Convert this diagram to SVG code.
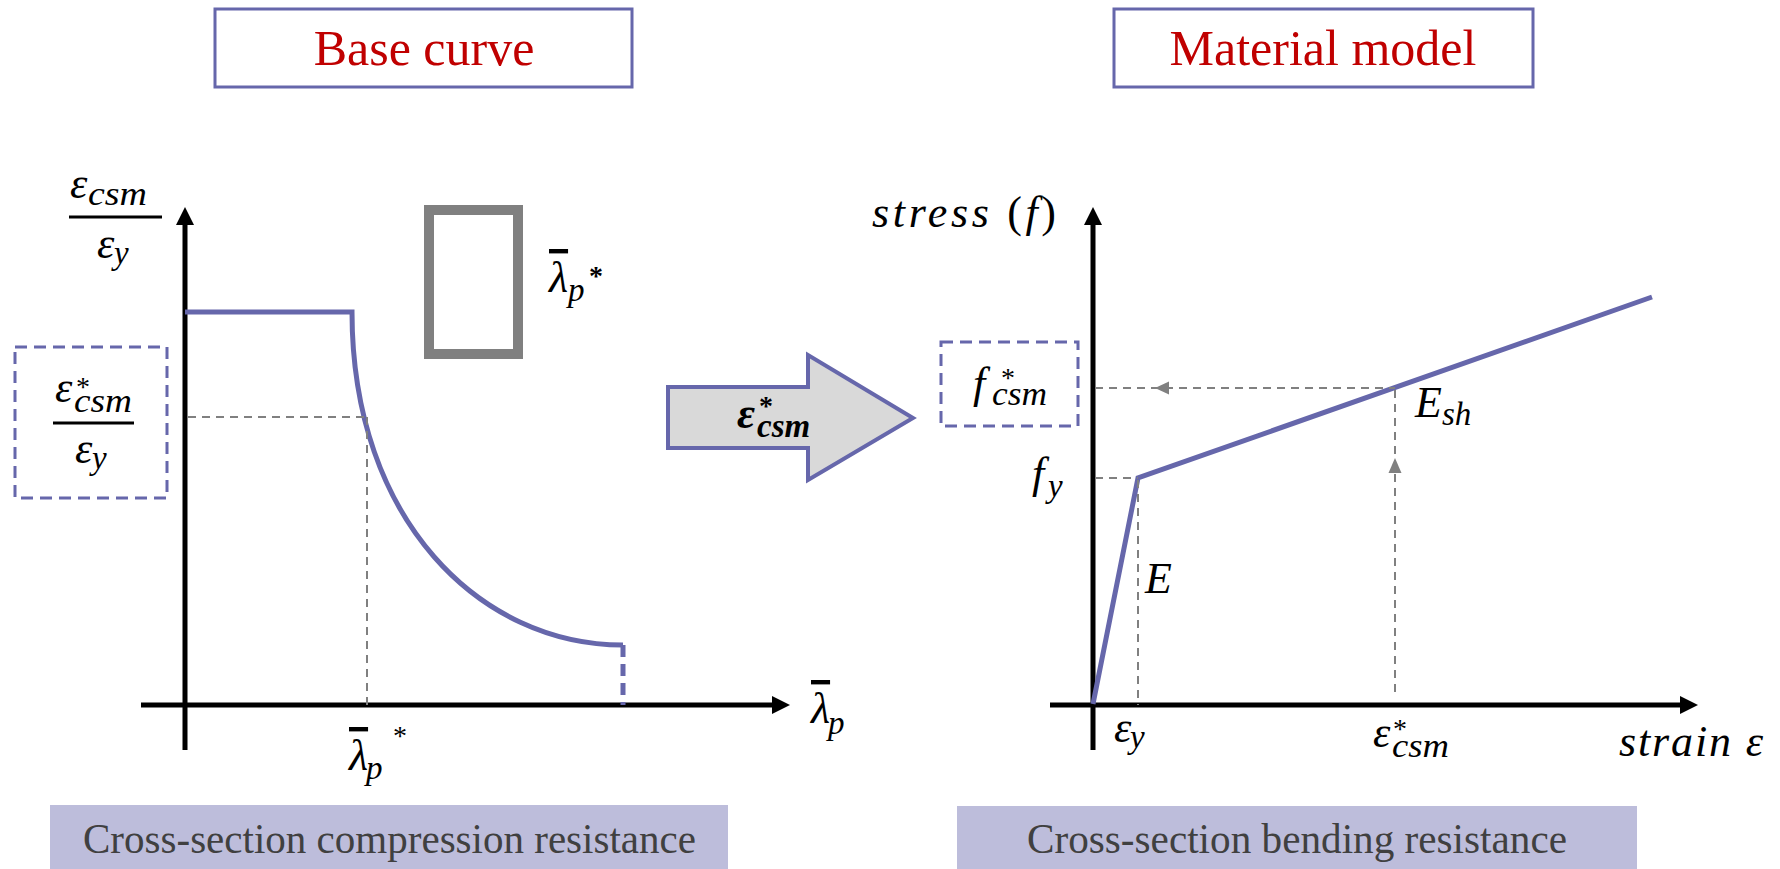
<svg xmlns="http://www.w3.org/2000/svg" width="1780" height="869" viewBox="0 0 1780 869">
<style>
.title{font-family:"Liberation Serif",serif;font-size:50px;fill:#C00000;text-anchor:middle}
.cap{font-family:"Liberation Serif",serif;font-size:42px;fill:#404040}
.m{font-family:"Liberation Serif","DejaVu Serif",serif;font-style:italic;font-size:44px;fill:#000}
.sub{font-size:33px}
.star{font-style:normal;font-size:28px}
.up{font-style:normal}
.ol{text-decoration:overline}
.tbox{fill:#fff;stroke:#6667AB;stroke-width:3}
.capbox{fill:#BDBDDB}
.axis{stroke:#000;stroke-width:5;fill:none}
.curve{stroke:#6667AB;stroke-width:5;fill:none}
.guide{stroke:#808080;stroke-width:2;stroke-dasharray:8 6;fill:none}
.dbox{fill:none;stroke:#6667AB;stroke-width:3;stroke-dasharray:12 7}
.bar{stroke:#000;stroke-width:3}
</style>

<g id="title-base-curve">
  <rect class="tbox" x="215" y="9" width="417" height="78"/>
  <text class="title" x="424" y="65">Base curve</text>
</g>
<g id="title-material-model">
  <rect class="tbox" x="1114" y="9" width="419" height="78"/>
  <text class="title" x="1323" y="65">Material model</text>
</g>

<g id="caption-compression">
  <rect class="capbox" x="50" y="805" width="678" height="64"/>
  <text class="cap" x="83" y="853" textLength="613" lengthAdjust="spacingAndGlyphs">Cross-section compression resistance</text>
</g>
<g id="caption-bending">
  <rect class="capbox" x="957" y="806" width="680" height="63"/>
  <text class="cap" x="1027" y="853" textLength="540" lengthAdjust="spacingAndGlyphs">Cross-section bending resistance</text>
</g>

<g id="left-chart">
  <line class="axis" x1="185" y1="750" x2="185" y2="222"/>
  <polygon points="185,207 176,225 194,225" fill="#000"/>
  <line class="axis" x1="141" y1="705" x2="774" y2="705"/>
  <polygon points="790,705 772,696 772,714" fill="#000"/>
  <path class="curve" d="M185,312 L352,312 C352,520 480,645 623,645"/>
  <line class="curve" x1="623" y1="645" x2="623" y2="705" stroke-dasharray="12 7"/>
  <path class="guide" d="M188,417 H366 M367,417 V705"/>
  <rect x="429" y="210" width="89" height="144" fill="none" stroke="#808080" stroke-width="10"/>
</g>

<g id="left-y-label">
  <text class="m" x="70" y="198">ε<tspan class="sub" x="88" y="205" textLength="59" lengthAdjust="spacingAndGlyphs">csm</tspan></text>
  <line class="bar" x1="69" y1="217" x2="162" y2="217"/>
  <text class="m" x="97" y="258">ε<tspan class="sub" x="114" y="264">y</tspan></text>
</g>

<g id="epsilon-csm-ratio-box">
  <rect class="dbox" x="15" y="347" width="152" height="151"/>
  <text class="m" x="55" y="402">ε<tspan class="star" x="76" y="396">*</tspan><tspan class="sub" x="74" y="412" textLength="58" lengthAdjust="spacingAndGlyphs">csm</tspan></text>
  <line class="bar" x1="53" y1="423" x2="134" y2="423"/>
  <text class="m" x="75" y="463">ε<tspan class="sub" x="92" y="469">y</tspan></text>
</g>

<g id="left-x-labels">
  <text class="m" x="349" y="770" font-size="38"><tspan class="ol">λ</tspan><tspan class="sub" x="366" y="779" font-size="30">p</tspan><tspan class="star" x="393" y="745" font-size="24">*</tspan></text>
  <text class="m" x="811" y="723" font-size="38"><tspan class="ol">λ</tspan><tspan class="sub" x="828" y="734" font-size="30">p</tspan></text>
  <text class="m" x="549" y="292" font-size="40"><tspan class="ol">λ</tspan><tspan class="sub" x="568" y="301" font-size="30">p</tspan><tspan class="star" x="589" y="285" font-size="30" font-weight="bold">*</tspan></text>
</g>

<g id="transfer-arrow">
  <path d="M668,387 L808,387 L808,355 L913,418 L808,480 L808,448 L668,448 Z" fill="#D9D9D9" stroke="#6667AB" stroke-width="4" stroke-linejoin="miter"/>
  <text class="m" x="737" y="428" font-weight="bold" font-size="42">ε<tspan class="star" x="759" y="415" font-size="26">*</tspan><tspan class="sub" x="757" y="437" font-size="32">csm</tspan></text>
</g>

<g id="right-chart">
  <line class="axis" x1="1093" y1="750" x2="1093" y2="222"/>
  <polygon points="1093,207 1084,225 1102,225" fill="#000"/>
  <line class="axis" x1="1050" y1="705" x2="1682" y2="705"/>
  <polygon points="1698,705 1680,696 1680,714" fill="#000"/>
  <polyline class="curve" stroke-width="6" stroke-linejoin="miter" points="1093,704 1138,478 1652,297"/>
</g>

<g id="connectors">
  <path class="guide" d="M1095,478 H1138 M1138,480 V705"/>
  <path class="guide" d="M1095,388 H1395 M1395,390 V693"/>
  <polygon points="1155,388 1169,381.5 1169,394.5" fill="#808080"/>
  <polygon points="1395,458 1388.5,473 1401.5,473" fill="#808080"/>
</g>

<g id="right-labels">
  <text class="m" x="872" y="227" textLength="184">stress <tspan class="up">(</tspan>f<tspan class="up">)</tspan></text>
  <text class="m" x="1619" y="756" textLength="144">strain ε</text>
  <text class="m" x="1032" y="488" font-size="46">f<tspan class="sub" x="1048" y="497">y</tspan></text>
  <text class="m" x="1145" y="593" font-size="36">E</text>
  <text class="m" x="1415" y="417" font-size="36">E<tspan class="sub" x="1442" y="425" font-size="28">sh</tspan></text>
  <text class="m" x="1114" y="742">ε<tspan class="sub" x="1130" y="748">y</tspan></text>
  <text class="m" x="1373" y="747">ε<tspan class="star" x="1393" y="738" font-size="26">*</tspan><tspan class="sub" x="1392" y="757" textLength="57" lengthAdjust="spacingAndGlyphs">csm</tspan></text>
</g>

<g id="f-csm-box">
  <rect class="dbox" x="941" y="342" width="137" height="84"/>
  <text class="m" x="973" y="398" font-size="46">f<tspan class="star" x="1001" y="387" font-size="26">*</tspan><tspan class="sub" x="992" y="405" textLength="55" lengthAdjust="spacingAndGlyphs">csm</tspan></text>
</g>
</svg>
